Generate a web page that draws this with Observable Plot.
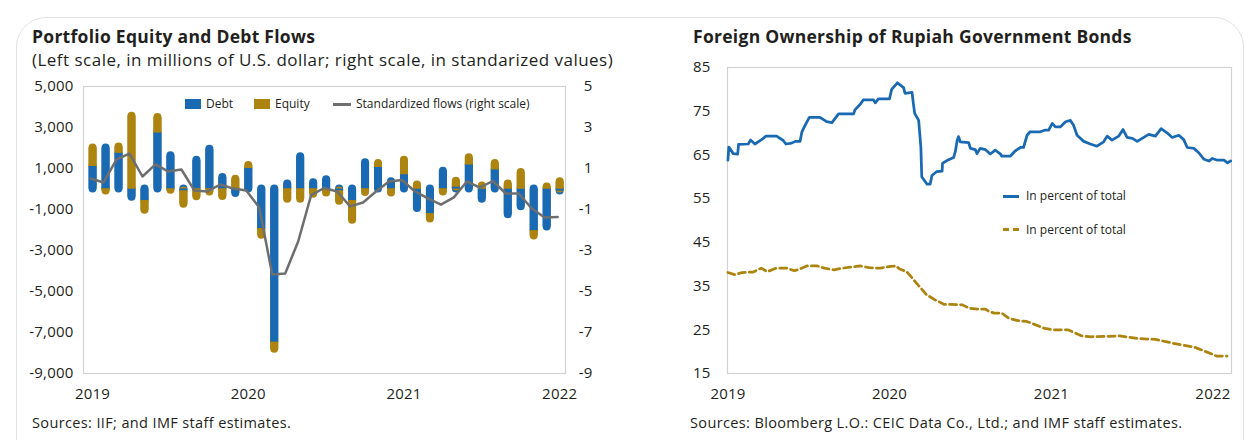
<!DOCTYPE html>
<html><head><meta charset="utf-8">
<script src="https://cdn.jsdelivr.net/npm/d3@7"></script>
<script src="https://cdn.jsdelivr.net/npm/@observablehq/plot@0.6"></script>
<style>
body{margin:0;background:#fff;font-family:"Open Sans",Lato,sans-serif;color:#231f20;}
#wrap{position:relative;width:1248px;height:440px;overflow:hidden;background:#fff;}
.abs{position:absolute;white-space:nowrap;}
.box{position:absolute;left:16px;top:17px;width:1226px;height:460px;border:1.5px solid #e2e2e2;border-radius:30px;}
.title{font-weight:700;font-size:17.5px;line-height:20px;letter-spacing:0.28px;}
.sub{font-size:17px;line-height:20px;letter-spacing:0.48px;}
.src{font-size:14.5px;line-height:18px;letter-spacing:0.37px;}
.leg{font-size:12px;line-height:14px;letter-spacing:0px;}
.sw{position:absolute;}
#left,#right{position:absolute;top:0;}
#left{left:0;} #right{left:630px;}
</style></head><body>
<div id="wrap">
  <div class="box"></div>
  <div id="left"></div>
  <div id="right"></div>
  <div class="abs title" style="left:32px;top:26px">Portfolio Equity and Debt Flows</div>
  <div class="abs sub" style="left:32px;top:50px">(Left scale, in millions of U.S. dollar; right scale, in standarized values)</div>
  <div class="abs title" style="left:693px;top:26px">Foreign Ownership of Rupiah Government Bonds</div>

  <div class="sw" style="left:185px;top:99px;width:16px;height:10px;background:#1a69b3"></div>
  <div class="abs leg" style="left:206px;top:97px">Debt</div>
  <div class="sw" style="left:254px;top:99px;width:16px;height:10px;background:#ac840f"></div>
  <div class="abs leg" style="left:275px;top:97px">Equity</div>
  <div class="sw" style="left:333px;top:102.5px;width:18px;height:3px;background:#6d6e70"></div>
  <div class="abs leg" style="left:356px;top:97px">Standardized flows (right scale)</div>

  <div class="sw" style="left:1003px;top:194.5px;width:16px;height:3px;background:#1a69b3"></div>
  <div class="abs leg" style="left:1026px;top:189px">In percent of total</div>
  <div class="sw" style="left:1003px;top:228px;width:6px;height:3px;background:#ac840f"></div>
  <div class="sw" style="left:1013px;top:228px;width:6px;height:3px;background:#ac840f"></div>
  <div class="abs leg" style="left:1026px;top:223px">In percent of total</div>

  <div class="abs src" style="left:32px;top:414px">Sources: IIF; and IMF staff estimates.</div>
  <div class="abs src" style="left:690px;top:414px">Sources: Bloomberg L.O.: CEIC Data Co., Ltd.; and IMF staff estimates.</div>
</div>
<script>
// ---------- Left chart data ----------
const months = ["2019-01","2019-02","2019-03","2019-04","2019-05","2019-06","2019-07","2019-08","2019-09","2019-10","2019-11","2019-12",
"2020-01","2020-02","2020-03","2020-04","2020-05","2020-06","2020-07","2020-08","2020-09","2020-10","2020-11","2020-12",
"2021-01","2021-02","2021-03","2021-04","2021-05","2021-06","2021-07","2021-08","2021-09","2021-10","2021-11","2021-12","2022-01"];
const debt = [1100, 2000, 1750, -400, -560, 2740, 1620, -100, 1400, 1940, 560, -220, 1000, -1940, -7480, 250, 1570, 300, 450, -100, -575, 1280, 1050, 350, 700, -950, -1210, 870, 100, 1180, -500, 940, -1250, -870, -2040, -1850, -100];
const equity = [900, -100, 300, 3550, -480, 750, -60, -640, -380, -150, -370, 480, 150, -310, -340, -500, -500, -250, -200, -500, -950, -170, 200, -200, 700, 200, -250, -150, 280, 340, 150, 300, 250, 800, -250, 100, 350];
const standardized = [0.51, 0.32, 1.44, 1.73, 0.61, 1.20, 0.85, 0.95, -0.07, -0.12, 0.22, 0.02, -0.07, -0.90, -4.17, -4.12, -2.56, -0.30, 0.05, -0.12, -0.85, -0.66, -0.12, 0.37, 0.44, -0.12, -0.46, -0.76, -0.41, 0.37, 0.07, 0.39, -0.22, -0.22, -0.95, -1.39, -1.37];
const leftYTicks = [5000, 3000, 1000, -1000, -3000, -5000, -7000, -9000];
const yearLabels = ["2019", "2020", "2021", "2022"];

// ---------- Right chart data ----------
const holdDates = ["2019-01-01","2019-01-03","2019-01-05","2019-01-13","2019-01-23","2019-01-25","2019-02-16","2019-02-21","2019-03-03","2019-03-18","2019-03-28","2019-04-21","2019-05-06","2019-05-12","2019-05-25","2019-06-02","2019-06-13","2019-06-17","2019-06-24","2019-07-04","2019-07-28","2019-08-12","2019-08-24","2019-09-08","2019-10-12","2019-10-15","2019-10-27","2019-11-03","2019-11-26","2019-11-30","2019-12-07","2020-01-01","2020-01-06","2020-01-19","2020-02-02","2020-02-05","2020-02-21","2020-02-24","2020-02-27","2020-03-07","2020-03-12","2020-03-14","2020-03-26","2020-04-02","2020-04-06","2020-04-17","2020-04-29","2020-04-30","2020-05-10","2020-05-25","2020-05-29","2020-06-02","2020-06-05","2020-06-09","2020-06-28","2020-07-02","2020-07-13","2020-07-17","2020-07-24","2020-08-05","2020-08-16","2020-08-27","2020-09-08","2020-09-11","2020-09-30","2020-10-11","2020-10-23","2020-10-30","2020-11-07","2020-11-14","2020-12-07","2020-12-18","2020-12-26","2021-01-03","2021-01-10","2021-01-21","2021-02-02","2021-02-13","2021-02-20","2021-02-28","2021-03-15","2021-03-30","2021-04-14","2021-04-29","2021-05-07","2021-05-18","2021-06-02","2021-06-12","2021-06-21","2021-07-03","2021-07-14","2021-07-25","2021-08-09","2021-08-24","2021-09-06","2021-09-20","2021-10-01","2021-10-16","2021-10-27","2021-11-04","2021-11-19","2021-11-30","2021-12-12","2021-12-23","2021-12-31","2022-01-11","2022-01-26","2022-02-03","2022-02-10"];
const holdValues = [63.8,66.8,66.5,65.3,65.2,67.4,67.5,68.4,67.5,68.5,69.3,69.3,68.3,67.5,67.7,68.1,68.1,70.2,71.7,73.6,73.6,72.6,72.4,74.4,74.4,75.3,76.6,77.6,77.6,76.9,77.8,77.8,80.0,81.5,80.4,79.1,79.3,76.8,74.5,72.9,66.8,60.0,58.3,58.3,60.3,61.2,61.3,63.1,63.7,64.4,65.8,68.3,69.2,68.0,67.8,66.5,66.2,65.3,66.5,66.2,65.2,66.1,65.2,64.7,64.7,65.9,66.7,66.7,69.5,70.3,70.3,70.7,70.7,72.2,71.4,71.4,72.6,72.9,71.8,69.5,68.1,67.5,67.0,68.0,69.3,68.4,69.3,70.8,69.0,68.8,68.1,68.8,69.7,69.3,71.0,70.0,69.0,69.5,68.5,66.7,66.5,65.5,64.0,63.6,64.2,63.8,63.8,63.2,63.6];
const shareDates = ["2019-01-01","2019-01-17","2019-02-02","2019-02-27","2019-03-17","2019-03-31","2019-04-20","2019-05-14","2019-05-31","2019-06-12","2019-06-28","2019-07-22","2019-08-07","2019-08-28","2019-09-17","2019-10-27","2019-11-16","2019-12-11","2020-01-04","2020-01-16","2020-01-24","2020-02-09","2020-03-01","2020-03-25","2020-04-14","2020-05-04","2020-05-20","2020-06-14","2020-06-30","2020-07-24","2020-08-05","2020-08-13","2020-08-25","2020-09-11","2020-09-27","2020-10-17","2020-11-06","2020-11-22","2020-12-17","2021-01-06","2021-02-07","2021-02-23","2021-03-11","2021-04-01","2021-06-04","2021-07-15","2021-08-24","2021-10-04","2021-11-21","2021-12-16","2022-01-09","2022-02-02"];
const shareValues = [38.1,37.6,38.1,38.2,39.1,38.3,39.1,39.1,38.5,38.9,39.6,39.6,39.1,38.7,39.1,39.6,39.2,39.1,39.5,39.6,38.9,38.3,35.8,33.0,31.8,30.8,30.8,30.7,29.9,29.7,29.7,29.2,28.8,28.8,27.6,27.1,26.9,26.3,25.3,25.0,25.0,24.3,23.6,23.4,23.6,23.0,22.8,21.9,21.0,20.0,19.0,19.0];
const rightYTicks = [15, 25, 35, 45, 55, 65, 75, 85];
const yearDates = ["2019-01-01", "2020-01-01", "2021-01-01", "2022-01-01"];

const BLUE = "#1a69b3", GOLD = "#ac840f", GREY = "#6d6e70", INK = "#231f20";
const FONT = "'Open Sans', Lato, sans-serif";

// ---------- Left chart ----------
const barRows = [
  ...months.map((m, i) => ({i, type: "Debt", value: debt[i]})),
  ...months.map((m, i) => ({i, type: "Equity", value: equity[i]}))
];
const stdRows = months.map((m, i) => ({i, s: standardized[i]}));
const stackOpts = () => Plot.stackY({x: "i", y: "value", z: "type", stroke: "type"});

const leftPlot = Plot.plot({
  width: 620, height: 410,
  marginLeft: 83, marginRight: 55, marginTop: 86, marginBottom: 37,
  style: {fontFamily: FONT, fontSize: "15px", letterSpacing: "0.2px", color: INK, background: "transparent", overflow: "visible"},
  x: {type: "linear", domain: [-0.7, 36.45], label: null},
  y: {domain: [-9000, 5000], label: null},
  color: {domain: ["Debt", "Equity"], range: [BLUE, GOLD]},
  marks: [
    Plot.frame({stroke: "#d2d2d2", strokeWidth: 1.2}),
    Plot.axisY({ticks: leftYTicks, tickSize: 0, tickPadding: 10, tickFormat: d => d.toLocaleString("en-US"), fill: INK}),
    Plot.axisY({anchor: "right", ticks: leftYTicks, tickSize: 0, tickPadding: 27, textAnchor: "end", tickFormat: d => String(d / 1000), fill: INK}),
    Plot.axisX({ticks: [0, 12, 24, 36], tickSize: 0, tickPadding: 15, tickFormat: d => yearLabels[d / 12], fill: INK}),
    Plot.ruleX(barRows, {...stackOpts(), strokeWidth: 8, strokeLinecap: "round"}),
    Plot.ruleX(barRows, {...stackOpts(), strokeWidth: 8, strokeLinecap: "butt"}),
    Plot.line(stdRows, {x: "i", y: d => d.s * 1000, stroke: GREY, strokeWidth: 2.5, dx: -2})
  ]
});
document.getElementById("left").appendChild(leftPlot);

// ---------- Right chart ----------
const parse = d3.utcParse("%Y-%m-%d");
const holdRows = holdDates.map((d, i) => ({date: parse(d), v: holdValues[i]}));
const shareRows = shareDates.map((d, i) => ({date: parse(d), v: shareValues[i]}));

const rightPlot = Plot.plot({
  width: 618, height: 410,
  marginLeft: 97, marginRight: 17, marginTop: 67, marginBottom: 37,
  style: {fontFamily: FONT, fontSize: "15px", letterSpacing: "0.2px", color: INK, background: "transparent", overflow: "visible"},
  x: {type: "utc", domain: [parse("2018-12-31"), parse("2022-02-12")], label: null},
  y: {domain: [15, 85], label: null},
  marks: [
    Plot.frame({stroke: "#d2d2d2", strokeWidth: 1.2}),
    Plot.axisY({ticks: rightYTicks, tickSize: 0, tickPadding: 17, fill: INK}),
    Plot.axisX({ticks: yearDates.map(parse), tickSize: 0, tickPadding: 15, tickFormat: d3.utcFormat("%Y"), fill: INK}),
    Plot.line(holdRows, {x: "date", y: "v", stroke: BLUE, strokeWidth: 2.75}),
    Plot.line(shareRows, {x: "date", y: "v", stroke: GOLD, strokeWidth: 2.75, strokeDasharray: "7,4"})
  ]
});
document.getElementById("right").appendChild(rightPlot);
</script>
</body></html>
